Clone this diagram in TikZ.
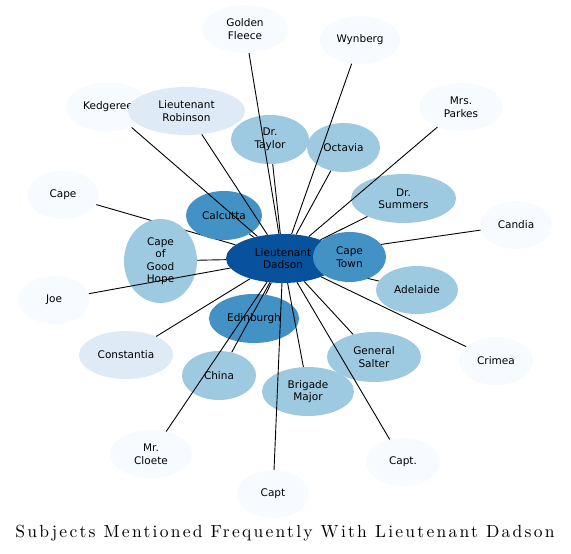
\documentclass[tikz,border=0pt]{standalone}
\usepackage{fontspec}
\newfontfamily\nodefont{DejaVu Sans}
\newfontfamily\titlefont[LetterSpace=13]{lmroman10-regular.otf}
\usetikzlibrary{shapes.geometric}
\definecolor{bzero}{HTML}{F7FBFF}
\definecolor{bone}{HTML}{DEEBF7}
\definecolor{bthree}{HTML}{9ECAE1}
\definecolor{bfive}{HTML}{4292C6}
\definecolor{bseven}{HTML}{08519C}
\tikzset{
  ent/.style={ellipse, inner sep=0pt, draw=none, align=center, text=black,
    font=\nodefont\fontsize{10.5}{12.5}\selectfont},
  link/.style={draw=black, line width=0.9pt},
  titlestyle/.style={font=\titlefont\fontsize{17.5}{20}\selectfont, inner sep=0pt, anchor=base}
}
\begin{document}
\begin{tikzpicture}[x=1pt,y=-1pt]
\useasboundingbox (0,0) rectangle (571,554);
\path
  (283,258.5) node[ent, minimum width=114pt, minimum height=49pt] (dadson) {}
  (349.5,257) node[ent, minimum width=73pt, minimum height=50pt] (capetown) {}
  (63,195) node[ent, minimum width=72pt, minimum height=48pt] (cape) {}
  (516,225) node[ent, minimum width=72pt, minimum height=48pt] (candia) {}
  (417,290) node[ent, minimum width=82pt, minimum height=48pt] (adelaide) {};
% edges hidden beneath nodes
\draw[link] (dadson) -- (cape);
\draw[link] (dadson) -- (candia);
\draw[link] (dadson) -- (adelaide);
% nodes
\node[ent, fill=bzero, minimum width=86pt, minimum height=48pt] (fleece) at (245,29) {Golden\\Fleece};
\node[ent, fill=bzero, minimum width=80pt, minimum height=48pt] (wynberg) at (360,40) {Wynberg};
\node[ent, fill=bzero, minimum width=84pt, minimum height=48pt] (parkes) at (461,107) {Mrs.\\Parkes};
\node[ent, fill=bzero, minimum width=84pt, minimum height=49pt] (kedgeree) at (108,107) {Kedgeree};
\node[ent, fill=bone, minimum width=117pt, minimum height=48pt] (robinson) at (186.5,111) {Lieutenant\\Robinson};
\node[ent, fill=bthree, minimum width=78pt, minimum height=49pt] (taylor) at (270,139.5) {Dr.\\Taylor};
\node[ent, fill=bthree, minimum width=73pt, minimum height=49pt] (octavia) at (343.5,147.5) {Octavia};
\node[ent, fill=bthree, minimum width=105pt, minimum height=49pt] (summers) at (403.5,198.5) {Dr.\\Summers};
\node[ent, fill=bzero, minimum width=72pt, minimum height=48pt] at (candia) {Candia};
\node[ent, fill=bzero, minimum width=72pt, minimum height=48pt] at (cape) {Cape};
\node[ent, fill=bfive, minimum width=76pt, minimum height=49pt] (calcutta) at (224,215.5) {Calcutta};
\node[ent, fill=bthree, minimum width=73pt, minimum height=84pt] (goodhope) at (160.5,261) {Cape\\of\\Good\\Hope};
\node[ent, fill=bseven, minimum width=114pt, minimum height=49pt] at (dadson) {Lieutenant\\Dadson};
\draw[link] (dadson) -- (capetown);
\node[ent, fill=bfive, minimum width=73pt, minimum height=50pt] at (capetown) {Cape\\Town};
\node[ent, fill=bthree, minimum width=82pt, minimum height=48pt] at (adelaide) {Adelaide};
\node[ent, fill=bzero, minimum width=72pt, minimum height=48pt] (joe) at (54,300) {Joe};
\node[ent, fill=bfive, minimum width=90pt, minimum height=49pt] (edinburgh) at (254,318.5) {Edinburgh};
\node[ent, fill=bone, minimum width=94pt, minimum height=48pt] (constantia) at (126,355) {Constantia};
\node[ent, fill=bthree, minimum width=74pt, minimum height=49pt] (china) at (219,375.5) {China};
\node[ent, fill=bthree, minimum width=94pt, minimum height=50pt] (salter) at (374,357) {General\\Salter};
\node[ent, fill=bthree, minimum width=92pt, minimum height=49pt] (brigade) at (308,391.5) {Brigade\\Major};
\node[ent, fill=bzero, minimum width=74pt, minimum height=48pt] (crimea) at (496,361) {Crimea};
\node[ent, fill=bzero, minimum width=82pt, minimum height=48pt] (cloete) at (151,454) {Mr.\\Cloete};
\node[ent, fill=bzero, minimum width=74pt, minimum height=48pt] (captdot) at (403,462) {Capt.};
\node[ent, fill=bzero, minimum width=72pt, minimum height=48pt] (capt) at (273,494) {Capt};
% edges drawn over nodes
\foreach \t in {fleece,wynberg,parkes,kedgeree,robinson,taylor,octavia,summers,calcutta,goodhope,joe,edinburgh,constantia,china,salter,brigade,crimea,cloete,captdot,capt}
  \draw[link] (dadson) -- (\t);
% title
\node[titlestyle] (title) at (285,537) {Subjects Mentioned Frequently With Lieutenant Dadson};
\end{tikzpicture}
\end{document}
